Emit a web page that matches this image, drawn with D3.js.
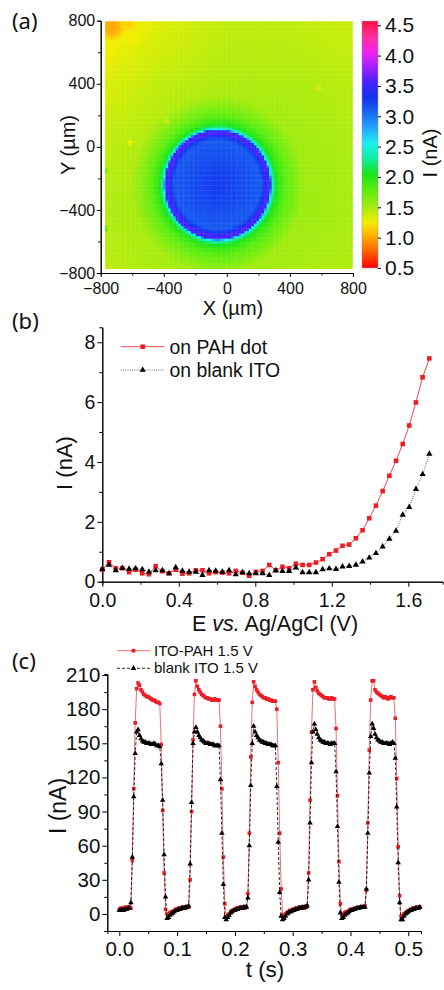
<!DOCTYPE html>
<html>
<head>
<meta charset="utf-8">
<script src="https://cdn.jsdelivr.net/npm/d3@7"></script>
<style>
  body { margin: 0; background: #fff; }
  svg { display: block; }
  svg text { font-family: "Liberation Sans", Arial, sans-serif; fill: #111; }
  .axis path, .axis line { stroke: #000; stroke-width: 1; }
  svg text.panel-label { font-family: "Noto Sans", sans-serif; font-size: 22px; }
</style>
</head>
<body>
<svg id="fig" width="444" height="990"></svg>
<script>
// ---- (a) SECM map: background readings (nA) on a 400 µm grid, top row = Y 800
const bgGrid = [
  [1.18, 1.32, 1.42, 1.42, 1.38],
  [1.32, 1.42, 1.48, 1.48, 1.44],
  [1.42, 1.50, 1.56, 1.54, 1.48],
  [1.46, 1.54, 1.60, 1.56, 1.50],
  [1.42, 1.50, 1.54, 1.50, 1.46]
];
// PAH dot: centre (µm), radii (µm)
const dotCenter = [-58, -238];
const dotRadii = [340, 352];
// radial profile inside the dot (r normalised to radius) and the halo just outside
const dotProfileR = [0, 0.5, 0.8, 0.87, 0.93, 0.975, 1.0];
const dotProfileI = [3.28, 3.18, 3.12, 3.30, 3.62, 3.45, 2.70];
const haloR = [1.0, 1.04, 1.1, 1.25, 1.6];
const haloAdd = [1.05, 0.7, 0.45, 0.25, 0];
// small features: [X, Y, radius, I]
const spots = [
  [-725, 760, 85, 1.0], [-620, 775, 60, 1.15], [-740, 620, 60, 1.25], [-600, 700, 70, 1.25],
  [-614, 32, 22, 1.2], [-380, 165, 22, 1.25], [581, 374, 22, 1.3],
  [-785, -150, 28, 2.4], [-785, -300, 22, 2.3], [-785, -520, 28, 2.5]
];
const scanExtent = [-772, 794];
const scanStep = 16;
const mapTicks = [-800, -400, 0, 400, 800];
const cbTicks = [0.5, 1.0, 1.5, 2.0, 2.5, 3.0, 3.5, 4.0, 4.5];
const cmapStops = [0.5, 0.8, 1.05, 1.25, 1.5, 1.8, 2.05, 2.3, 2.55, 2.8, 3.05, 3.3, 3.55, 3.8, 4.05, 4.3, 4.57];
const cmapColors = ["#ff0000", "#ff6a00", "#ffb400", "#f2ee00", "#a8ec10", "#58ee10", "#18e418", "#12eea0",
  "#1cf0f0", "#24a8ff", "#1a6af0", "#1234f0", "#4422ff", "#a020ff", "#f020f0", "#ff30a0", "#ff1040"];

// ---- (b) linear sweep
const potentialE = [0, 0.035, 0.070, 0.105, 0.140, 0.174, 0.209, 0.244, 0.279, 0.314, 0.349, 0.384, 0.419,
  0.454, 0.489, 0.524, 0.558, 0.593, 0.628, 0.663, 0.698, 0.733, 0.768, 0.803, 0.838, 0.873, 0.907, 0.942,
  0.977, 1.012, 1.047, 1.082, 1.117, 1.152, 1.187, 1.222, 1.256, 1.291, 1.326, 1.361, 1.396, 1.431, 1.466,
  1.501, 1.536, 1.571, 1.605, 1.640, 1.675, 1.710];
const pahDotI = [0.40, 0.65, 0.45, 0.45, 0.32, 0.40, 0.28, 0.25, 0.52, 0.35, 0.28, 0.40, 0.27, 0.28, 0.38,
  0.38, 0.28, 0.32, 0.30, 0.28, 0.36, 0.30, 0.20, 0.33, 0.36, 0.56, 0.38, 0.50, 0.45, 0.60, 0.56, 0.56, 0.64,
  0.75, 0.92, 1.04, 1.20, 1.24, 1.45, 1.72, 2.12, 2.54, 3.03, 3.54, 4.04, 4.60, 5.22, 5.99, 6.83, 7.46];
const blankItoI = [0.42, 0.56, 0.38, 0.45, 0.43, 0.44, 0.41, 0.33, 0.38, 0.38, 0.28, 0.48, 0.36, 0.33, 0.33,
  0.22, 0.38, 0.36, 0.33, 0.38, 0.24, 0.31, 0.28, 0.28, 0.28, 0.22, 0.38, 0.35, 0.35, 0.47, 0.31, 0.31, 0.31,
  0.41, 0.44, 0.42, 0.50, 0.52, 0.56, 0.67, 0.80, 0.95, 1.17, 1.43, 1.70, 2.23, 2.49, 3.09, 3.59, 4.27];
const sweepTicks = [0, 0.4, 0.8, 1.2, 1.6];
const sweepMinor = [0.2, 0.6, 1.0, 1.4];
const sweepYTicks = [0, 2, 4, 6, 8];
const sweepYMinor = [1, 3, 5, 7];

// ---- (c) chopped light at 1.5 V, sampled every 2.5 ms
const sampleStep = 0.0025;
const itoPahI = [
  4, 5, 5, 4, 6, 5, 6, 6, 5,
  47, 110, 168, 198, 203, 201, 197, 195, 193, 192, 191, 191, 190, 189, 188, 188, 187, 186, 186, 185, 149, 91, 36, 4,
  0, -1, 1, 2, 2, 3, 4, 4, 5, 5, 5, 6, 6, 5, 6, 6,
  30, 90, 153, 193, 205, 200, 197, 195, 193, 192, 191, 190, 190, 189, 189, 188, 188, 189, 188, 188, 188, 165, 110, 50, 9,
  -2, -1, 0, 2, 3, 3, 4, 5, 5, 5, 6, 6, 6, 5, 6,
  18, 71, 138, 186, 204, 200, 197, 195, 193, 192, 191, 190, 190, 189, 189, 188, 188, 187, 187, 187, 180, 133, 71, 22,
  -1, -2, 0, 1, 2, 3, 3, 4, 4, 5, 5, 5, 6, 6, 6, 5, 6, 7,
  36, 100, 160, 197, 204, 199, 196, 194, 193, 192, 191, 190, 190, 190, 189, 189, 190, 189, 189, 163, 104, 46, 9,
  -1, 0, 1, 2, 2, 3, 4, 4, 4, 5, 5, 5, 6, 6, 6, 6, 7,
  21, 80, 144, 188, 205, 205, 197, 195, 194, 193, 192, 191, 190, 191, 190, 189, 190, 191, 190, 190, 172, 119, 59, 16,
  -2, -3, 0, 1, 2, 3, 3, 4, 5, 5, 5, 6, 6, 6
];
const blankIto15I = [
  3, 3, 4, 3, 4, 4, 5, 5, 10,
  50, 103, 141, 160, 162, 157, 154, 152, 151, 151, 150, 150, 150, 149, 149, 150, 149, 148, 148, 147, 132, 100, 52, 15,
  -4, -3, -1, 0, 1, 2, 3, 3, 4, 4, 5, 5, 5, 6, 6, 7,
  44, 98, 150, 160, 164, 160, 157, 155, 153, 152, 151, 150, 150, 150, 149, 149, 149, 148, 148, 148, 148, 118, 71, 26, -3,
  -5, -3, -1, 1, 2, 3, 3, 4, 4, 5, 5, 5, 6, 6, 6,
  14, 60, 113, 150, 165, 160, 157, 155, 153, 152, 151, 151, 150, 150, 149, 149, 149, 148, 148, 148, 112, 63, 19, -2,
  -5, -4, -2, 0, 1, 2, 2, 3, 3, 4, 4, 5, 5, 5, 6, 6, 6, 7,
  30, 80, 133, 160, 167, 162, 158, 155, 153, 152, 151, 151, 150, 150, 150, 149, 150, 150, 150, 125, 77, 28, 1,
  -4, -3, -1, 0, 1, 2, 3, 3, 4, 4, 5, 5, 5, 6, 6, 6, 6,
  22, 71, 124, 156, 167, 163, 158, 155, 153, 152, 151, 151, 150, 150, 150, 150, 149, 150, 151, 150, 137, 94, 45, 10,
  -5, -5, -2, 0, 1, 2, 3, 3, 4, 4, 5, 5, 5, 6
];
const pulseTicks = [0, 0.1, 0.2, 0.3, 0.4, 0.5];
const pulseMinor = [0.05, 0.15, 0.25, 0.35, 0.45];
const pulseYTicks = [0, 30, 60, 90, 120, 150, 180, 210];
const pulseYMinor = [-15, 15, 45, 75, 105, 135, 165, 195];

const svg = d3.select("#fig");

function drawAxis(g, axis, fontSize) {
  g.attr("class", "axis").call(axis);
  g.attr("font-family", null).attr("font-size", null);
  g.select(".domain").attr("stroke", "#000");
  g.selectAll("text").style("font-size", fontSize + "px").attr("fill", "#111");
}

// ================= (a) =================
const mapX = d3.scaleLinear().domain([-800, 800]).range([100.7, 353]);
const mapY = d3.scaleLinear().domain([-800, 800]).range([273, 20.7]);
const colorOf = d3.scaleLinear().domain(cmapStops).range(cmapColors).clamp(true);
const profile = d3.scaleLinear().domain(dotProfileR).range(dotProfileI).clamp(true);
const halo = d3.scaleLinear().domain(haloR).range(haloAdd).clamp(true);

function backgroundAt(x, y) {
  const fx = (x + 800) / 400, fy = (800 - y) / 400;
  const i0 = Math.max(0, Math.min(3, Math.floor(fx))), j0 = Math.max(0, Math.min(3, Math.floor(fy)));
  const tx = fx - i0, ty = fy - j0;
  const r0 = bgGrid[j0], r1 = bgGrid[j0 + 1];
  return (r0[i0] * (1 - tx) + r0[i0 + 1] * tx) * (1 - ty) + (r1[i0] * (1 - tx) + r1[i0 + 1] * tx) * ty;
}

function currentAt(x, y) {
  let v = backgroundAt(x, y);
  spots.forEach(([sx, sy, sr, sv]) => {
    const d = Math.hypot(x - sx, y - sy) / sr;
    if (d < 1) { const w = 1 - d * d; v = v * (1 - w) + sv * w; }
  });
  const r = Math.hypot((x - dotCenter[0]) / dotRadii[0], (y - dotCenter[1]) / dotRadii[1]);
  return r <= 1 ? profile(r) : v + halo(r);
}

const cells = [];
for (let x = scanExtent[0]; x < scanExtent[1]; x += scanStep) {
  for (let y = scanExtent[0]; y < scanExtent[1]; y += scanStep) {
    cells.push({ x, y, v: currentAt(x + scanStep / 2, y + scanStep / 2) });
  }
}
const cellW = mapX(scanStep) - mapX(0);
svg.append("g")
  .selectAll("rect")
  .data(cells)
  .join("rect")
  .attr("x", (d) => mapX(d.x))
  .attr("y", (d) => mapY(d.y + scanStep))
  .attr("width", cellW + 0.4)
  .attr("height", cellW + 0.4)
  .attr("fill", (d) => colorOf(d.v));

drawAxis(svg.append("g").attr("transform", "translate(0,273)"),
  d3.axisBottom(mapX).tickValues(mapTicks).tickSize(4).tickPadding(6).tickSizeOuter(0).tickFormat(d3.format("d")), 16);
drawAxis(svg.append("g").attr("transform", "translate(0,273)"),
  d3.axisBottom(mapX).tickValues([-600, -200, 200, 600]).tickSize(2.5).tickFormat(""), 16);
drawAxis(svg.append("g").attr("transform", "translate(100.7,0)"),
  d3.axisLeft(mapY).tickValues(mapTicks).tickSize(4).tickPadding(1.5).tickSizeOuter(0).tickFormat(d3.format("d")), 16);
drawAxis(svg.append("g").attr("transform", "translate(100.7,0)"),
  d3.axisLeft(mapY).tickValues([-600, -200, 200, 600]).tickSize(2.5).tickFormat(""), 16);

svg.append("text").attr("x", 233).attr("y", 315).attr("text-anchor", "middle")
  .style("font-size", "20px").text("X (µm)");
svg.append("text").attr("transform", "translate(75,145) rotate(-90)").attr("text-anchor", "middle")
  .style("font-size", "20px").text("Y (µm)");

// colour bar
const cbY = d3.scaleLinear().domain([0.5, 4.57]).range([268, 21]);
const grad = svg.append("defs").append("linearGradient")
  .attr("id", "cbgrad").attr("x1", 0).attr("y1", 1).attr("x2", 0).attr("y2", 0);
grad.selectAll("stop").data(cmapStops).join("stop")
  .attr("offset", (d) => (d - 0.5) / (4.57 - 0.5))
  .attr("stop-color", (d, i) => cmapColors[i]);
svg.append("rect").attr("x", 362).attr("y", cbY(4.57)).attr("width", 16)
  .attr("height", cbY(0.5) - cbY(4.57)).attr("fill", "url(#cbgrad)")
  .attr("stroke", "#999").attr("stroke-width", 0.5);
const cbAxis = svg.append("g").attr("transform", "translate(378,0)");
drawAxis(cbAxis, d3.axisRight(cbY).tickValues(cbTicks).tickSize(3).tickPadding(4).tickSizeOuter(0)
  .tickFormat(d3.format(".1f")), 21);
cbAxis.select(".domain").remove();
svg.append("text").attr("transform", "translate(437,153) rotate(-90)").attr("text-anchor", "middle")
  .style("font-size", "20px").text("I (nA)");

// ================= (b) =================
const sweepX = d3.scaleLinear().domain([0, 1.78]).range([102.3, 442.7]);
const sweepY = d3.scaleLinear().domain([0, 8.5]).range([581.7, 327.3]);

drawAxis(svg.append("g").attr("transform", "translate(0,581.7)"),
  d3.axisBottom(sweepX).tickValues(sweepTicks).tickSize(5).tickPadding(6).tickSizeOuter(0).tickFormat(d3.format(".1f")), 19.5);
drawAxis(svg.append("g").attr("transform", "translate(0,581.7)"),
  d3.axisBottom(sweepX).tickValues(sweepMinor).tickSize(3).tickFormat(""), 19.5);
drawAxis(svg.append("g").attr("transform", "translate(102.3,0)"),
  d3.axisLeft(sweepY).tickValues(sweepYTicks).tickSize(5).tickPadding(2).tickSizeOuter(0).tickFormat(d3.format("d")), 19.5);
drawAxis(svg.append("g").attr("transform", "translate(102.3,0)"),
  d3.axisLeft(sweepY).tickValues(sweepYMinor).tickSize(3).tickFormat(""), 19.5);

const sweepLine = (ys) => d3.line().x((d, i) => sweepX(potentialE[i])).y((d) => sweepY(d))(ys);
svg.append("path").attr("d", sweepLine(pahDotI)).attr("fill", "none")
  .attr("stroke", "#f04848").attr("stroke-width", 1);
svg.append("path").attr("d", sweepLine(blankItoI)).attr("fill", "none")
  .attr("stroke", "#444").attr("stroke-width", 0.8).attr("stroke-dasharray", "1,1.2");
svg.append("g").selectAll("path").data(pahDotI).join("path")
  .attr("transform", (d, i) => `translate(${sweepX(potentialE[i])},${sweepY(d)})`)
  .attr("d", d3.symbol(d3.symbolSquare, 21)).attr("fill", "#ee1c24");
svg.append("g").selectAll("path").data(blankItoI).join("path")
  .attr("transform", (d, i) => `translate(${sweepX(potentialE[i])},${sweepY(d)})`)
  .attr("d", d3.symbol(d3.symbolTriangle, 17)).attr("fill", "#000");

// legend (b)
svg.append("line").attr("x1", 121).attr("x2", 164).attr("y1", 346.7).attr("y2", 346.7)
  .attr("stroke", "#f04848").attr("stroke-width", 1);
svg.append("path").attr("transform", "translate(142.7,346.7)")
  .attr("d", d3.symbol(d3.symbolSquare, 21)).attr("fill", "#ee1c24");
svg.append("text").attr("x", 169.5).attr("y", 354).style("font-size", "19.4px").text("on PAH dot");
svg.append("line").attr("x1", 121).attr("x2", 164).attr("y1", 370).attr("y2", 370)
  .attr("stroke", "#444").attr("stroke-width", 0.8).attr("stroke-dasharray", "1,1.2");
svg.append("path").attr("transform", "translate(142.7,370)")
  .attr("d", d3.symbol(d3.symbolTriangle, 17)).attr("fill", "#000");
svg.append("text").attr("x", 169.5).attr("y", 377.3).style("font-size", "19.4px").text("on blank ITO");

svg.append("text").attr("transform", "translate(72,463) rotate(-90)").attr("text-anchor", "middle")
  .style("font-size", "22px").text("I (nA)");
const eTitle = svg.append("text").attr("x", 275).attr("y", 631).attr("text-anchor", "middle")
  .style("font-size", "21.5px");
eTitle.append("tspan").text("E ");
eTitle.append("tspan").style("font-style", "italic").text("vs.");
eTitle.append("tspan").text(" Ag/AgCl (V)");

// ================= (c) =================
const pulseX = d3.scaleLinear().domain([-0.0208, 0.522]).range([107.3, 421]);
const pulseY = d3.scaleLinear().domain([-15, 211]).range([931, 673.9]);

drawAxis(svg.append("g").attr("transform", "translate(0,931)"),
  d3.axisBottom(pulseX).tickValues(pulseTicks).tickSize(5).tickPadding(5.5).tickSizeOuter(0).tickFormat(d3.format(".1f")), 20.5);
drawAxis(svg.append("g").attr("transform", "translate(0,931)"),
  d3.axisBottom(pulseX).tickValues(pulseMinor).tickSize(3).tickFormat(""), 20.5);
drawAxis(svg.append("g").attr("transform", "translate(107.3,0)"),
  d3.axisLeft(pulseY).tickValues(pulseYTicks).tickSize(5).tickPadding(2).tickSizeOuter(0).tickFormat(d3.format("d")), 20.5);
drawAxis(svg.append("g").attr("transform", "translate(107.3,0)"),
  d3.axisLeft(pulseY).tickValues(pulseYMinor).tickSize(3).tickFormat(""), 20.5);

const pulseLine = (ys) => d3.line().x((d, i) => pulseX(i * sampleStep)).y((d) => pulseY(d))(ys);
svg.append("path").attr("d", pulseLine(itoPahI)).attr("fill", "none")
  .attr("stroke", "#f07070").attr("stroke-width", 1);
svg.append("g").selectAll("path").data(itoPahI).join("path")
  .attr("transform", (d, i) => `translate(${pulseX(i * sampleStep)},${pulseY(d)})`)
  .attr("d", d3.symbol(d3.symbolSquare, 13)).attr("fill", "#ee1c24");
svg.append("path").attr("d", pulseLine(blankIto15I)).attr("fill", "none")
  .attr("stroke", "#111").attr("stroke-width", 0.9).attr("stroke-dasharray", "3,2");
svg.append("g").selectAll("path").data(blankIto15I).join("path")
  .attr("transform", (d, i) => `translate(${pulseX(i * sampleStep)},${pulseY(d)})`)
  .attr("d", d3.symbol(d3.symbolTriangle, 13)).attr("fill", "#000");

// legend (c)
svg.append("line").attr("x1", 117).attr("x2", 150).attr("y1", 650.7).attr("y2", 650.7)
  .attr("stroke", "#f07070").attr("stroke-width", 1);
svg.append("path").attr("transform", "translate(133.5,650.7)")
  .attr("d", d3.symbol(d3.symbolSquare, 14)).attr("fill", "#ee1c24");
svg.append("text").attr("x", 154).attr("y", 655.5).style("font-size", "15px").text("ITO-PAH 1.5 V");
svg.append("line").attr("x1", 117).attr("x2", 150).attr("y1", 668.3).attr("y2", 668.3)
  .attr("stroke", "#111").attr("stroke-width", 0.9).attr("stroke-dasharray", "3,2");
svg.append("path").attr("transform", "translate(133.5,668.3)")
  .attr("d", d3.symbol(d3.symbolTriangle, 14)).attr("fill", "#000");
svg.append("text").attr("x", 154).attr("y", 673.3).style("font-size", "15px").text("blank ITO 1.5 V");

svg.append("text").attr("transform", "translate(66,806) rotate(-90)").attr("text-anchor", "middle")
  .style("font-size", "23px").text("I (nA)");
svg.append("text").attr("x", 265).attr("y", 977).attr("text-anchor", "middle")
  .style("font-size", "22.5px").text("t (s)");

// panel labels
svg.append("text").attr("class", "panel-label").attr("x", 12).attr("y", 29).text("(a)");
svg.append("text").attr("class", "panel-label").attr("x", 12).attr("y", 329).text("(b)");
svg.append("text").attr("class", "panel-label").attr("x", 12).attr("y", 669).text("(c)");
</script>
</body>
</html>
